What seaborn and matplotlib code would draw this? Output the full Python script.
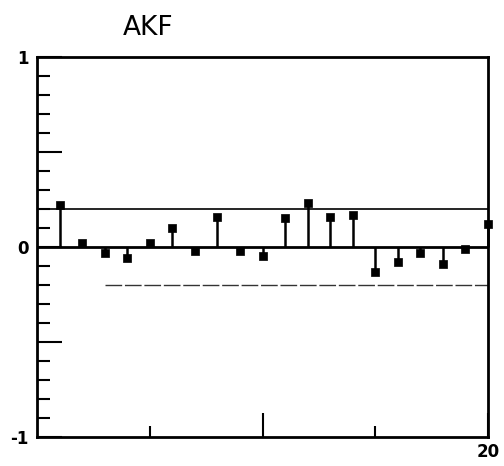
import numpy as np
import pandas as pd
import matplotlib
matplotlib.use("Agg")
import matplotlib.pyplot as plt
import seaborn as sns

# Autocorrelation estimates for lags 1..20
lags = list(range(1, 21))
acf = [0.22, 0.02, -0.03, -0.06, 0.02, 0.10, -0.02, 0.16, -0.02, -0.05,
       0.15, 0.23, 0.16, 0.17, -0.13, -0.08, -0.03, -0.09, -0.01, 0.12]
band = 0.20  # approximate confidence bound

ytick_vals = [-1, -0.5, 0, 0.5, 1]
ytick_labels = ["-1", "", "0", "", "1"]
xtick_vals = [10, 20]
xtick_labels = ["", "20"]

df = pd.DataFrame({"lag": lags, "acf": acf})

sns.set_style("ticks")
plt.rcParams["font.family"] = ["DejaVu Sans"]
plt.rcParams["text.color"] = "black"
plt.rcParams["xtick.color"] = "black"
plt.rcParams["ytick.color"] = "black"

fig = plt.figure(figsize=(5.04, 4.66), dpi=100)
ax = fig.add_axes([37 / 504, 1 - 437 / 466, 451 / 504, 380 / 466])

# zero line and confidence bounds
ax.axhline(0, color="black", lw=2.0, zorder=2)
ax.axhline(band, color="black", lw=1.2, zorder=1)
ax.hlines(-band, 3, 20, color="black", lw=1.0, linestyles=(0, (12, 2)), alpha=0.8, zorder=1)

# stems
ax.vlines(df["lag"], 0, df["acf"], color="black", lw=1.8, zorder=3, clip_on=False)
sns.scatterplot(data=df, x="lag", y="acf", marker="s", s=30, color="black",
                edgecolor="black", linewidth=0.5, ax=ax, zorder=4, legend=False,
                clip_on=False)

ax.set_xlim(0, 20)
ax.set_ylim(-1, 1)

ax.set_yticks(ytick_vals)
ax.set_yticklabels(ytick_labels, fontsize=12, fontweight="bold", color="black")
ax.set_yticks(np.round(np.arange(-0.9, 1.0, 0.1), 1), minor=True)
ax.set_xticks(xtick_vals)
ax.set_xticklabels(xtick_labels, fontsize=12, fontweight="bold", color="black")
ax.set_xticks([5, 15], minor=True)

ax.tick_params(axis="y", which="major", direction="in", length=18, width=1.5, pad=6, colors="black")
ax.tick_params(axis="y", which="minor", direction="in", length=9, width=1.5, colors="black")
ax.tick_params(axis="x", which="major", direction="in", length=17, width=1.5, pad=4, colors="black")
ax.tick_params(axis="x", which="minor", direction="in", length=8, width=1.5, colors="black")

for sp in ax.spines.values():
    sp.set_linewidth(2.0)
    sp.set_color("black")

ax.set_xlabel("")
ax.set_ylabel("")

fig.text(148 / 504, 1 - 28 / 466, "AKF", ha="center", va="center", fontsize=19, color="black")

fig.savefig("out.png", dpi=100)
